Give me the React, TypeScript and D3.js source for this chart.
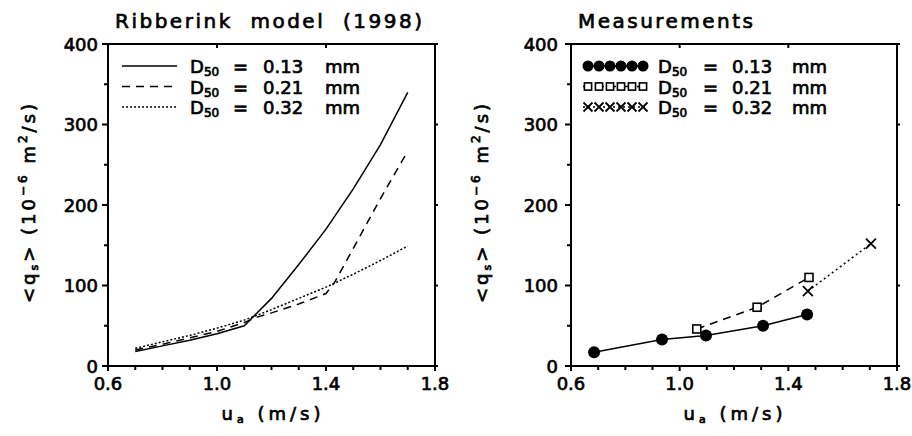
import React from "react";
import * as d3 from "d3";

// ---------- data ----------
const modelU = [0.7, 0.8, 0.9, 1.0, 1.1, 1.2, 1.3, 1.4, 1.5, 1.6, 1.7];
const model013 = [18, 25, 32, 40, 50, 84, 126, 170, 220, 275, 340];
const modelU021 = [0.7, 0.8, 0.9, 1.0, 1.1, 1.15, 1.2, 1.3, 1.4, 1.43, 1.5, 1.6, 1.7];
const model021 = [20, 27, 35, 43, 54, 61, 66, 77, 90, 103, 146, 208, 267];
const model032 = [22, 30, 38, 47, 57, 70, 84, 98, 114, 131, 149];

const measU013 = [0.685, 0.935, 1.097, 1.307, 1.469];
const meas013 = [17, 33, 38, 50, 64];
const measU021 = [1.063, 1.285, 1.476];
const meas021 = [46, 73, 110];
const measU032 = [1.472, 1.704];
const meas032 = [93, 152];

const legendValues = ["0.13", "0.21", "0.32"];
const xTicks = [0.6, 1.0, 1.4, 1.8];
const xMinor = [0.7, 0.8, 0.9, 1.1, 1.2, 1.3, 1.5, 1.6, 1.7];
const yTicks = [0, 100, 200, 300, 400];
const yMinor = [50, 150, 250, 350];

const FONT = "'DejaVu Sans', sans-serif";
const TXT = { fontFamily: FONT, fontSize: 18, fill: "#000", stroke: "#000", strokeWidth: 0.7 } as const;
const dashes = [null, "8,6", "2,2"];

type Series = { u: number[]; q: number[] };

function Axes({ x, y, labelGap }: { x: d3.ScaleLinear<number, number>; y: d3.ScaleLinear<number, number>; labelGap: number }) {
  const [x0, x1] = x.range();
  const [y0, y1] = y.range();
  return (
    <g>
      <rect x={x0} y={y1} width={x1 - x0} height={y0 - y1} fill="none" stroke="#000" strokeWidth={2} />
      {xTicks.map((t) => (
        <g key={"xt" + t}>
          <line x1={x(t)} x2={x(t)} y1={y0} y2={y0 + 5} stroke="#000" strokeWidth={2} />
          <line x1={x(t)} x2={x(t)} y1={y1} y2={y1 + 4} stroke="#000" strokeWidth={2} />
          <text x={x(t)} y={y0 + 24} textAnchor="middle" {...TXT}>
            {t.toFixed(1)}
          </text>
        </g>
      ))}
      {xMinor.map((t) => (
        <line key={"xm" + t} x1={x(t)} x2={x(t)} y1={y0} y2={y0 + 4} stroke="#000" strokeWidth={2} />
      ))}
      {yTicks.map((t) => (
        <g key={"yt" + t}>
          <line x1={x0 - 6} x2={x0} y1={y(t)} y2={y(t)} stroke="#000" strokeWidth={2} />
          <line x1={x1} x2={x1 + 3} y1={y(t)} y2={y(t)} stroke="#000" strokeWidth={2} />
          <text x={x0 - labelGap} y={y(t) + 6.5} textAnchor="end" {...TXT}>
            {t}
          </text>
        </g>
      ))}
      {yMinor.map((t) => (
        <line key={"ym" + t} x1={x0 - 4} x2={x0} y1={y(t)} y2={y(t)} stroke="#000" strokeWidth={2} />
      ))}
    </g>
  );
}

function YLabel({ cx, cy }: { cx: number; cy: number }) {
  return (
    <text
      transform={`translate(${cx},${cy}) rotate(-90)`}
      textAnchor="middle"
      {...TXT}
      letterSpacing={3}
      style={{ whiteSpace: "pre" }}
    >
      <tspan>{"<q"}</tspan>
      <tspan fontSize={11} dy={3}>s</tspan>
      <tspan dy={-3}>{"> (10"}</tspan>
      <tspan fontSize={12} dy={-8}>{"−6"}</tspan>
      <tspan dy={8}>{" m"}</tspan>
      <tspan fontSize={12} dy={-8}>2</tspan>
      <tspan dy={8}>{"/s)"}</tspan>
    </text>
  );
}

function XLabel({ cx, y }: { cx: number; y: number }) {
  return (
    <text x={cx} y={y} textAnchor="middle" {...TXT} letterSpacing={4} style={{ whiteSpace: "pre" }}>
      <tspan>u</tspan>
      <tspan fontSize={11} dy={3}>a</tspan>
      <tspan dy={-3}>{" (m/s)"}</tspan>
    </text>
  );
}

function LegendText({ x0, y, off, value }: { x0: number; y: number; off: number[]; value: string }) {
  return (
    <g {...TXT}>
      <text x={x0 + off[0]} y={y}>
        D<tspan fontSize={12} dy={3}>50</tspan>
      </text>
      <text x={x0 + off[1]} y={y}>=</text>
      <text x={x0 + off[2]} y={y}>{value}</text>
      <text x={x0 + off[3]} y={y}>mm</text>
    </g>
  );
}

function Marker({ kind, cx, cy, r }: { kind: number; cx: number; cy: number; r: number }) {
  if (kind === 0) return <circle cx={cx} cy={cy} r={r} fill="#000" />;
  if (kind === 1)
    return <rect x={cx - r * 0.8} y={cy - r * 0.8} width={r * 1.6} height={r * 1.6} fill="#fff" stroke="#000" strokeWidth={1.6} />;
  return (
    <g stroke="#000" strokeWidth={1.8}>
      <line x1={cx - r} y1={cy - r} x2={cx + r} y2={cy + r} />
      <line x1={cx - r} y1={cy + r} x2={cx + r} y2={cy - r} />
    </g>
  );
}

export default function App() {
  const yL = d3.scaleLinear().domain([0, 400]).range([366, 44]);
  const xL = d3.scaleLinear().domain([0.6, 1.8]).range([108, 435]);
  const xR = d3.scaleLinear().domain([0.6, 1.8]).range([571, 897]);

  const modelSeries: Series[] = [
    { u: modelU, q: model013 },
    { u: modelU021, q: model021 },
    { u: modelU, q: model032 },
  ];
  const measSeries: Series[] = [
    { u: measU013, q: meas013 },
    { u: measU021, q: meas021 },
    { u: measU032, q: meas032 },
  ];

  const lineL = (s: Series) =>
    d3.line<number>().x((_, i) => xL(s.u[i])).y((d) => yL(d))(s.q) || "";
  const lineR = (s: Series) =>
    d3.line<number>().x((_, i) => xR(s.u[i])).y((d) => yL(d))(s.q) || "";

  const rowY = [66, 86.5, 107];
  const markerR = [6, 5, 5];
  const legMarkerR = [5.5, 4.5, 4.5];

  return (
    <svg width={912} height={436} style={{ position: "absolute", left: 0, top: 0, background: "#fff" }}>
      <rect width={912} height={436} fill="#fff" />
      {/* titles */}
      <text x={115} y={28} {...TXT} fontSize={20} textLength={307} lengthAdjust="spacing" style={{ whiteSpace: "pre" }}>
        {"Ribberink  model  (1998)"}
      </text>
      <text x={578} y={28} {...TXT} fontSize={20} textLength={175} lengthAdjust="spacing">
        Measurements
      </text>

      {/* left panel */}
      <Axes x={xL} y={yL} labelGap={10} />
      {modelSeries.map((s, i) => (
        <path key={"m" + i} d={lineL(s)} fill="none" stroke="#000" strokeWidth={1.5} strokeDasharray={dashes[i] || undefined} />
      ))}
      {legendValues.map((v, i) => (
        <g key={"lgL" + i}>
          <line x1={122} x2={177} y1={rowY[i]} y2={rowY[i]} stroke="#000" strokeWidth={1.5} strokeDasharray={dashes[i] || undefined} />
          <LegendText x0={108} y={rowY[i] + 7} off={[82, 125, 155, 217]} value={v} />
        </g>
      ))}
      <YLabel cx={35} cy={202} />
      <XLabel cx={273} y={420} />

      {/* right panel */}
      <Axes x={xR} y={yL} labelGap={13} />
      {measSeries.map((s, i) => (
        <g key={"ms" + i}>
          <path d={lineR(s)} fill="none" stroke="#000" strokeWidth={1.5} strokeDasharray={i === 2 ? "2,3" : dashes[i] || undefined} />
          {s.q.map((q, j) => (
            <Marker key={j} kind={i} cx={xR(s.u[j])} cy={yL(q)} r={markerR[i]} />
          ))}
        </g>
      ))}
      {legendValues.map((v, i) => (
        <g key={"lgR" + i}>
          <line x1={583} x2={648} y1={rowY[i]} y2={rowY[i]} stroke="#000" strokeWidth={1.5} strokeDasharray={i === 2 ? "2,3" : i === 1 ? "3,3" : undefined} />
          {d3.range(6).map((k) => (
            <Marker key={k} kind={i} cx={588 + k * 11} cy={rowY[i]} r={legMarkerR[i]} />
          ))}
          <LegendText x0={571} y={rowY[i] + 7} off={[87, 132, 161, 221]} value={v} />
        </g>
      ))}
      <YLabel cx={488} cy={202} />
      <XLabel cx={735} y={420} />
    </svg>
  );
}
